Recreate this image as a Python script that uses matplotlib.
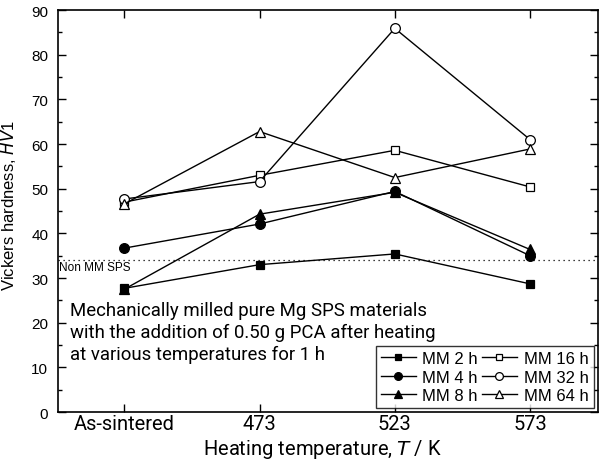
import matplotlib
matplotlib.use("Agg")
import matplotlib.pyplot as plt
from matplotlib.ticker import MultipleLocator

categories = ["As-sintered", "473", "523", "573"]
mm2 = [27.7, 33.0, 35.4, 28.7]
mm4 = [36.7, 42.1, 49.4, 35.0]
mm8 = [27.5, 44.3, 49.2, 36.4]
mm16 = [47.0, 53.0, 58.6, 50.4]
mm32 = [47.7, 51.6, 85.9, 61.0]
mm64 = [46.6, 62.8, 52.5, 58.9]
non_mm = 34.0
note_lines = ["Mechanically milled pure Mg SPS materials",
              "with the addition of 0.50 g PCA after heating",
              "at various temperatures for 1 h"]

series = [
    ("MM 2 h", mm2, "s", "black"),
    ("MM 4 h", mm4, "o", "black"),
    ("MM 8 h", mm8, "^", "black"),
    ("MM 16 h", mm16, "s", "white"),
    ("MM 32 h", mm32, "o", "white"),
    ("MM 64 h", mm64, "^", "white"),
]

gothic = ["Roboto", "DejaVu Sans"]
arial = ["Liberation Sans", "DejaVu Sans"]
plt.rcParams['font.family'] = gothic

fig = plt.figure(figsize=(6.03, 4.60), dpi=100)
ax = fig.add_axes([0.0962, 0.102, 0.895, 0.874])

x = list(range(len(categories)))
for label, vals, mk, fc in series:
    ms = 6 if mk == "s" else 7
    ax.plot(x, vals, color="black", lw=1.0, marker=mk, ms=ms,
            mfc=fc, mec="black", mew=0.9, label=label)

ax.axhline(non_mm, color="black", lw=0.9, ls=(0, (1, 3)))
ax.text(-0.48, 32.5, "Non MM SPS", fontsize=8.5, va="center", ha="left",
        family=arial)

for i, line in enumerate(note_lines):
    ax.text(-0.40, 22.8 - 4.9 * i, line, fontsize=13.4, va="center", ha="left")

ax.set_xlim(-0.49, 3.5)
ax.set_ylim(0, 90)
ax.set_xticks(x)
ax.set_xticklabels(categories, fontsize=14.5)
ax.yaxis.set_major_locator(MultipleLocator(10))
ax.yaxis.set_minor_locator(MultipleLocator(5))
for lab in ax.get_yticklabels():
    lab.set_family(arial)
    lab.set_fontsize(11)
ax.tick_params(which="both", direction="in", top=True, right=True)
ax.tick_params(which="major", length=6, width=1)
ax.tick_params(which="minor", length=3, width=1)
ax.tick_params(axis="x", which="minor", top=False, bottom=False)
ax.tick_params(axis="x", pad=1.5)
ax.tick_params(axis="y", pad=7)
for s in ax.spines.values():
    s.set_linewidth(1.2)

ax.set_ylabel("Vickers hardness, $\\it{HV}$1", fontsize=12, family=arial)
ax.yaxis.set_label_coords(-0.074, 0.517)
ax.set_xlabel("Heating temperature, $\\it{T}$ / K", fontsize=14.5)
ax.xaxis.set_label_coords(0.49, -0.062)

leg = ax.legend(ncol=2, loc="lower right", fontsize=12, frameon=True, fancybox=False,
                edgecolor="black", handlelength=2.1, handletextpad=0.4,
                columnspacing=0.25, labelspacing=0.2, borderpad=0.3,
                borderaxespad=0.25, markerscale=0.8)
leg.get_frame().set_linewidth(1.0)
for t in leg.get_texts():
    t.set_family(arial)

fig.savefig("out.png", dpi=100)
